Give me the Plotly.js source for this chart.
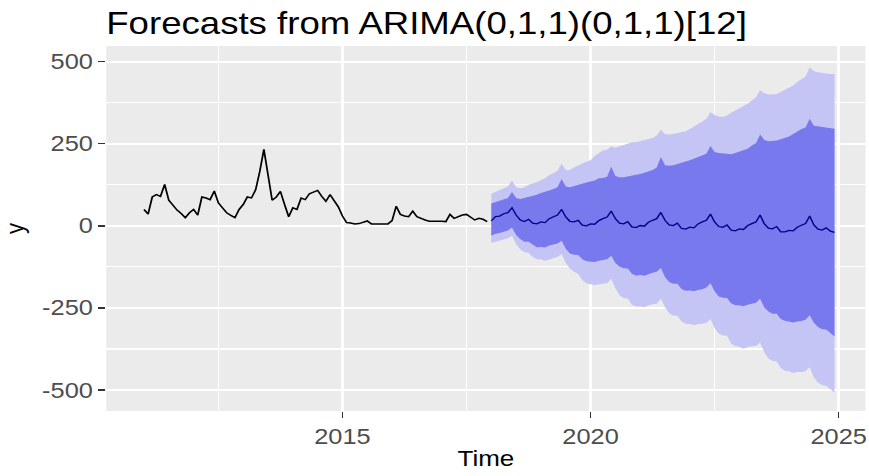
<!DOCTYPE html>
<html>
<head>
<meta charset="utf-8">
<script src="https://cdn.plot.ly/plotly-3.0.1.min.js"></script>
<style>
  html, body { margin: 0; padding: 0; background: #ffffff; overflow: hidden; }
  #chart { width: 736px; height: 476px; transform: scaleX(1.1807); transform-origin: 0 0; }
</style>
</head>
<body>
<div id="chart"></div>
<script>
// ---- data (monthly series, frequency 12) ----
const histStart = 2011;   // Jan 2011
const fcStart = 2018;     // Jan 2018
const freq = 12;

const observed = [
  50, 36, 88, 95, 90, 126, 78, 62, 48, 38, 25, 40,
  50, 33, 88, 85, 80, 106, 70, 55, 40, 32, 25, 50,
  65, 88, 85, 110, 165, 233, 150, 78, 88, 105, 65, 28,
  55, 50, 85, 80, 98, 103, 108, 90, 75, 95, 78, 58,
  30, 10, 9, 6, 7, 12, 15, 6, 6, 6, 6, 6,
  16, 60, 35, 30, 28, 45, 28, 22, 18, 14, 14, 16,
  14, 13, 35, 23, 28, 33, 35, 25, 18, 23, 20, 13
];

const pointForecast = [
  15, 28, 30, 37, 40, 55, 33, 18, 13, 20, 8, 6,
  12, 10, 22, 28, 33, 50, 27, 14, 12, 17, 2, 0,
  6, 5, 16, 22, 27, 45, 22, 8, 6, 13, -3, -5,
  1, -1, 11, 17, 22, 41, 17, 3, 1, 8, -8, -10,
  -4, -6, 6, 12, 17, 36, 12, -2, -4, 3, -13, -15,
  -9, -11, 1, 7, 12, 33, 7, -7, -9, -2, -18, -18,
  -14, -15, -4, 2, 7, 30, 3, -10, -13, -6, -16, -20
];

const upper80 = [
  68, 72, 75, 80, 85, 103, 85, 82, 85, 88, 90, 95,
  100, 103, 108, 112, 118, 143, 120, 118, 122, 125, 128, 132,
  135, 138, 145, 146, 150, 180, 152, 148, 148, 150, 153, 155,
  158, 162, 166, 170, 178, 210, 185, 183, 185, 188, 192, 196,
  200, 205, 210, 215, 220, 243, 225, 222, 220, 218, 218, 222,
  226, 230, 235, 245, 252, 278, 262, 258, 258, 260, 264, 268,
  272, 280, 288, 295, 300, 326, 305, 303, 300, 300, 298, 296
];

const lower80 = [
  -30, -24, -22, -17, -14, -5, -28, -40, -48, -48, -58, -65,
  -64, -66, -60, -57, -54, -45, -70, -84, -88, -89, -102, -108,
  -108, -110, -106, -104, -102, -91, -113, -124, -129, -130, -146, -152,
  -150, -152, -147, -143, -140, -128, -156, -171, -176, -176, -192, -198,
  -197, -199, -195, -193, -188, -175, -199, -215, -219, -220, -236, -242,
  -242, -245, -240, -238, -234, -222, -248, -261, -268, -268, -284, -289,
  -291, -294, -291, -290, -286, -272, -295, -308, -315, -316, -326, -337
];

const upper95 = [
  98, 103, 110, 115, 120, 138, 118, 115, 118, 125, 128, 133,
  140, 145, 155, 160, 168, 190, 170, 170, 178, 185, 190, 195,
  200, 213, 222, 230, 232, 242, 238, 242, 245, 250, 255, 255,
  258, 260, 265, 268, 275, 293, 280, 278, 280, 283, 285, 288,
  295, 302, 310, 318, 326, 346, 338, 333, 332, 336, 345, 352,
  358, 365, 372, 382, 392, 413, 405, 400, 400, 402, 408, 414,
  420, 428, 438, 446, 455, 483, 472, 468, 465, 464, 463, 463
];

const lower95 = [
  -52, -48, -45, -40, -38, -30, -55, -72, -80, -82, -95, -102,
  -102, -106, -102, -98, -95, -86, -112, -130, -140, -146, -166, -175,
  -177, -181, -178, -176, -175, -161, -190, -211, -220, -221, -240, -246,
  -245, -248, -242, -239, -237, -221, -248, -266, -274, -274, -291, -298,
  -299, -303, -299, -298, -295, -284, -311, -328, -334, -335, -358, -366,
  -368, -374, -369, -367, -366, -355, -384, -404, -411, -413, -433, -441,
  -443, -448, -445, -445, -443, -430, -462, -478, -485, -488, -499, -508
];

const xTickVals = [2015, 2020, 2025];
const xTickText = ['2015', '2020', '2025'];
const yTickVals = [-500, -250, 0, 250, 500];
const yTickText = ['-500', '-250', '0', '250', '500'];

// ---- time index ----
const histX = observed.map((_, i) => histStart + i / freq);
const fcX = pointForecast.map((_, i) => fcStart + i / freq);

const FONT = 'Liberation Sans, Arial, Helvetica, sans-serif';
const LIGHT = '#C4C4F5';
const DARK = '#7979EE';

const traces = [
  { x: fcX, y: lower95, type: 'scatter', mode: 'lines', line: { width: 0, color: LIGHT }, hoverinfo: 'skip' },
  { x: fcX, y: upper95, type: 'scatter', mode: 'lines', line: { width: 0, color: LIGHT }, fill: 'tonexty', fillcolor: LIGHT, hoverinfo: 'skip' },
  { x: fcX, y: lower80, type: 'scatter', mode: 'lines', line: { width: 0, color: DARK }, hoverinfo: 'skip' },
  { x: fcX, y: upper80, type: 'scatter', mode: 'lines', line: { width: 0, color: DARK }, fill: 'tonexty', fillcolor: DARK, hoverinfo: 'skip' },
  { x: histX, y: observed, type: 'scatter', mode: 'lines', line: { width: 1.5, color: '#000000' }, hoverinfo: 'skip' },
  { x: fcX, y: pointForecast, type: 'scatter', mode: 'lines', line: { width: 1.3, color: '#00008A' }, hoverinfo: 'skip' }
];

const layout = {
  width: 736,
  height: 476,
  margin: { l: 90, r: 3, t: 46, b: 65 },
  paper_bgcolor: '#FFFFFF',
  plot_bgcolor: '#EBEBEB',
  showlegend: false,
  font: { family: FONT, color: '#000000' },
  title: {
    text: 'Forecasts from ARIMA(0,1,1)(0,1,1)[12]',
    x: 0, xref: 'paper', xanchor: 'left',
    y: 1 - 23 / 476, yref: 'container', yanchor: 'middle',
    font: { family: FONT, size: 31, color: '#000000' }
  },
  xaxis: {
    range: [2010.24, 2025.54],
    tickmode: 'array', tickvals: xTickVals, ticktext: xTickText,
    ticks: 'outside', ticklen: 6, tickwidth: 1.3, tickcolor: '#333333',
    tickfont: { family: FONT, size: 21.5, color: '#4D4D4D' },
    showgrid: true, gridcolor: '#FFFFFF', gridwidth: 2,
    minor: { tickmode: 'array', tickvals: [2012.5, 2017.5, 2022.5], showgrid: true, gridcolor: '#FFFFFF', gridwidth: 1.1, ticks: '' },
    zeroline: false, showline: false,
    title: { text: 'Time', font: { family: FONT, size: 22, color: '#000000' }, standoff: 2 }
  },
  yaxis: {
    range: [-564, 548],
    tickmode: 'array', tickvals: yTickVals, ticktext: yTickText,
    ticks: 'outside', ticklen: 6, tickwidth: 1.3, tickcolor: '#333333',
    tickfont: { family: FONT, size: 21.5, color: '#4D4D4D' },
    showgrid: true, gridcolor: '#FFFFFF', gridwidth: 2,
    minor: { tickmode: 'array', tickvals: [-375, -125, 125, 375], showgrid: true, gridcolor: '#FFFFFF', gridwidth: 1.1, ticks: '' },
    zeroline: false, showline: false,
    title: { text: 'y', font: { family: FONT, size: 22, color: '#000000' }, standoff: 8 }
  }
};

Plotly.newPlot('chart', traces, layout, { staticPlot: true, displayModeBar: false });
</script>
</body>
</html>
